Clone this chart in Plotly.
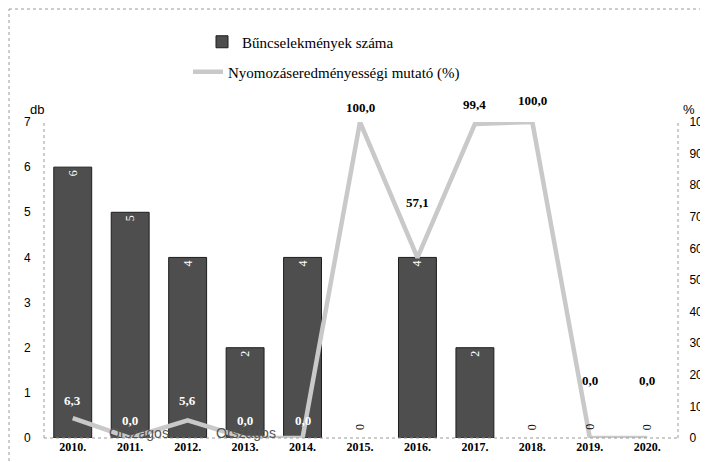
import plotly.graph_objects as go

years = ["2010.", "2011.", "2012.", "2013.", "2014.", "2015.", "2016.", "2017.", "2018.", "2019.", "2020."]
crimes = [6, 5, 4, 2, 4, 0, 4, 2, 0, 0, 0]
rate = [6.3, 0.0, 5.6, 0.0, 0.0, 100.0, 57.1, 99.4, 100.0, 0.0, 0.0]

# label offsets (px above the point) and colours for the rate labels
rate_shift = [18, 18, 20, 18, 18, 15, 55, 19, 22, 58, 58]
rate_color = ["white"] * 5 + ["black"] * 6

serif = "Liberation Serif"
sans = "Liberation Sans"
idx = list(range(len(years)))

fig = go.Figure()
fig.add_trace(go.Bar(
    x=idx, y=crimes, name="Bűncselekmények száma",
    marker=dict(color="#4e4e4e",
                line=dict(color="#1e1e1e", width=[1 if v > 0 else 0 for v in crimes])),
    width=0.66,
    text=[str(v) if v > 0 else "" for v in crimes],
    textposition="inside",
    insidetextanchor="end", textangle=-90,
    insidetextfont=dict(family=serif, size=12, color="white"),
    showlegend=True,
))
fig.add_trace(go.Scatter(
    x=idx, y=rate, name="Nyomozáseredményességi mutató (%)",
    mode="lines", line=dict(color="#c9c9c9", width=4.5),
    yaxis="y2", legend="legend2", showlegend=True,
))

# zero-count labels sit just above the baseline
for i, v in zip(idx, crimes):
    if v == 0:
        fig.add_annotation(x=i, y=v, xref="x", yref="y", yshift=11, showarrow=False,
                           text=str(v), textangle=-90,
                           font=dict(family=serif, size=12, color="black"))

for i, v, s, c in zip(idx, rate, rate_shift, rate_color):
    fig.add_annotation(
        x=i, y=v, xref="x", yref="y2", yshift=s, showarrow=False,
        text="<b>" + f"{v:.1f}".replace(".", ",") + "</b>",
        font=dict(family=serif, size=13, color=c),
    )

# the page body adds an 8px margin, so the figure is sized to fit inside the window
OFF = 8
W, H = 700, 454
L, R, T, B = 36, 32, 114, 24
pw, ph = W - L - R, H - T - B


def px(x):
    return (x - OFF - L) / pw


def py(y):
    return (H - B - (y - OFF)) / ph


fig.add_annotation(x=px(28), y=py(100), xref="paper", yref="paper", showarrow=False,
                   text="db", font=dict(family=sans, size=13, color="black"))
fig.add_annotation(x=px(697), y=py(100), xref="paper", yref="paper", showarrow=False,
                   text="%", font=dict(family=sans, size=13, color="black"))
for xx in [107, 214]:
    fig.add_annotation(x=px(xx), y=py(443), xref="paper", yref="paper", showarrow=False,
                       text="Országos", font=dict(family=sans, size=14, color="#555"))

dot = dict(color="#9a9a9a", width=1, dash="dot")
fig.add_shape(type="line", xref="paper", yref="paper", x0=0, x1=0, y0=0, y1=1, line=dot)
fig.add_shape(type="line", xref="paper", yref="paper", x0=px(678), x1=px(678), y0=0, y1=1, line=dot)
fig.add_shape(type="line", xref="paper", yref="paper", x0=0, x1=px(678), y0=0, y1=0, line=dot)
fig.add_shape(type="line", xref="paper", yref="paper", x0=px(9), x1=px(9), y0=py(461), y1=py(9), line=dot)
fig.add_shape(type="line", xref="paper", yref="paper", x0=px(9), x1=px(707), y0=py(9), y1=py(9), line=dot)

fig.update_layout(
    width=W, height=H,
    margin=dict(l=L, r=R, t=T, b=B, autoexpand=False),
    paper_bgcolor="white", plot_bgcolor="white",
    showlegend=True,
    legend=dict(x=px(202), y=py(42), xanchor="left", yanchor="middle",
                bgcolor="rgba(0,0,0,0)", font=dict(family=serif, size=15, color="black")),
    legend2=dict(x=px(188), y=py(72), xanchor="left", yanchor="middle",
                 bgcolor="rgba(0,0,0,0)", font=dict(family=serif, size=15, color="black")),
    xaxis=dict(range=[-0.5, len(years) - 0.5], tickvals=idx, ticktext=years,
               showgrid=False, showline=False, zeroline=False, ticks="", tickangle=0,
               tickfont=dict(family=serif, size=12, color="black", weight="bold")),
    yaxis=dict(range=[0, 7], dtick=1, showgrid=False, showline=False, zeroline=False,
               ticks="outside", ticklen=10, tickcolor="rgba(0,0,0,0)",
               tickfont=dict(family=sans, size=12, color="black")),
    yaxis2=dict(range=[0, 100], dtick=10, overlaying="y", side="right",
                showgrid=False, showline=False, zeroline=False,
                ticks="outside", ticklen=10, tickcolor="rgba(0,0,0,0)",
                tickfont=dict(family=sans, size=12, color="black")),
)

fig.write_html("out.html")
